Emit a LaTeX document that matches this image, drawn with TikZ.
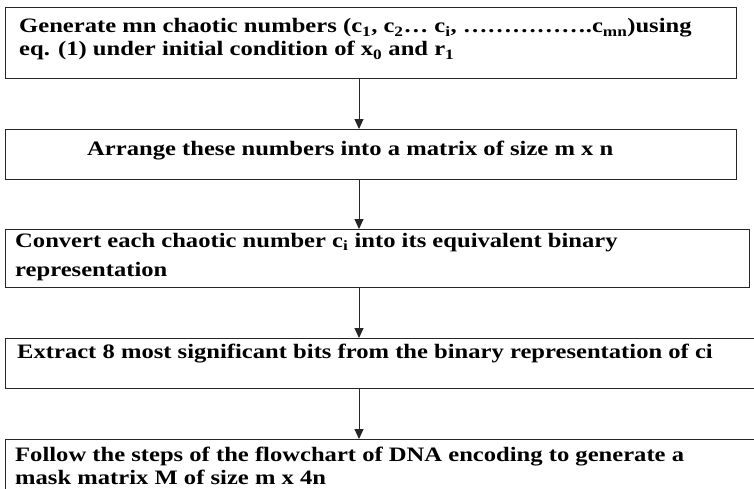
\documentclass[tikz,border=0pt]{standalone}
\usepackage{fontspec}
\setmainfont[FakeStretch=1.2]{Liberation Serif}
\usetikzlibrary{positioning,arrows.meta}
\begin{document}
\begin{tikzpicture}[x=1pt,y=-1pt]
\tikzstyle{stepbox}=[draw=black!85, line width=1.1pt, anchor=north west, inner sep=0pt]
\tikzstyle{steptxt}=[anchor=north west, align=left, inner sep=0pt, font=\bfseries\fontsize{20.5}{23}\selectfont]
\tikzstyle{flow}=[draw=black!85, line width=1pt, -{Triangle[length=10pt,width=9pt]}]
\useasboundingbox (0,0) rectangle (754,488);
% boxes
\node[stepbox, minimum width=731pt, minimum height=70.5pt] (b1) at (5,7){};
\node[stepbox, minimum width=731pt, minimum height=50pt] (b2) at (5,129){};
\node[stepbox, minimum width=744pt, minimum height=58pt] (b3) at (5,229){};
\node[stepbox, minimum width=760pt, minimum height=50pt] (b4) at (5,338){};
\node[stepbox, minimum width=760pt, minimum height=60pt] (b5) at (5,439){};
% texts
\node[steptxt, below right=11.5pt and 14pt of b1.north west] (t1) {Generate mn chaotic numbers (c\textsubscript{1}, c\textsubscript{2}\dots{} c\textsubscript{i}, \dots\dots\dots\dots\dots.c\textsubscript{mn})using\\eq. (1) under initial condition of x\textsubscript{0} and r\textsubscript{1}};
\node[steptxt, below right=12pt and 82pt of b2.north west] (t2) {Arrange these numbers into a matrix of size m x n};
\node[steptxt, below right=4pt and 10pt of b3.north west] (t3) {Convert each chaotic number c\textsubscript{i} into its equivalent binary\\[6pt]representation};
\node[steptxt, below right=6pt and 12pt of b4.north west] (t4) {Extract 8 most significant bits from the binary representation of ci};
\node[steptxt, below right=8pt and 10pt of b5.north west] (t5) {Follow the steps of the flowchart of DNA encoding to generate a\\mask matrix M of size m x 4n};
% arrows
\coordinate (ax) at (359,0);
\draw[flow] (ax |- b1.south) -- (ax |- b2.north);
\draw[flow] (ax |- b2.south) -- (ax |- b3.north);
\draw[flow] (ax |- b3.south) -- (ax |- b4.north);
\draw[flow] (ax |- b4.south) -- (ax |- b5.north);
\end{tikzpicture}
\end{document}
